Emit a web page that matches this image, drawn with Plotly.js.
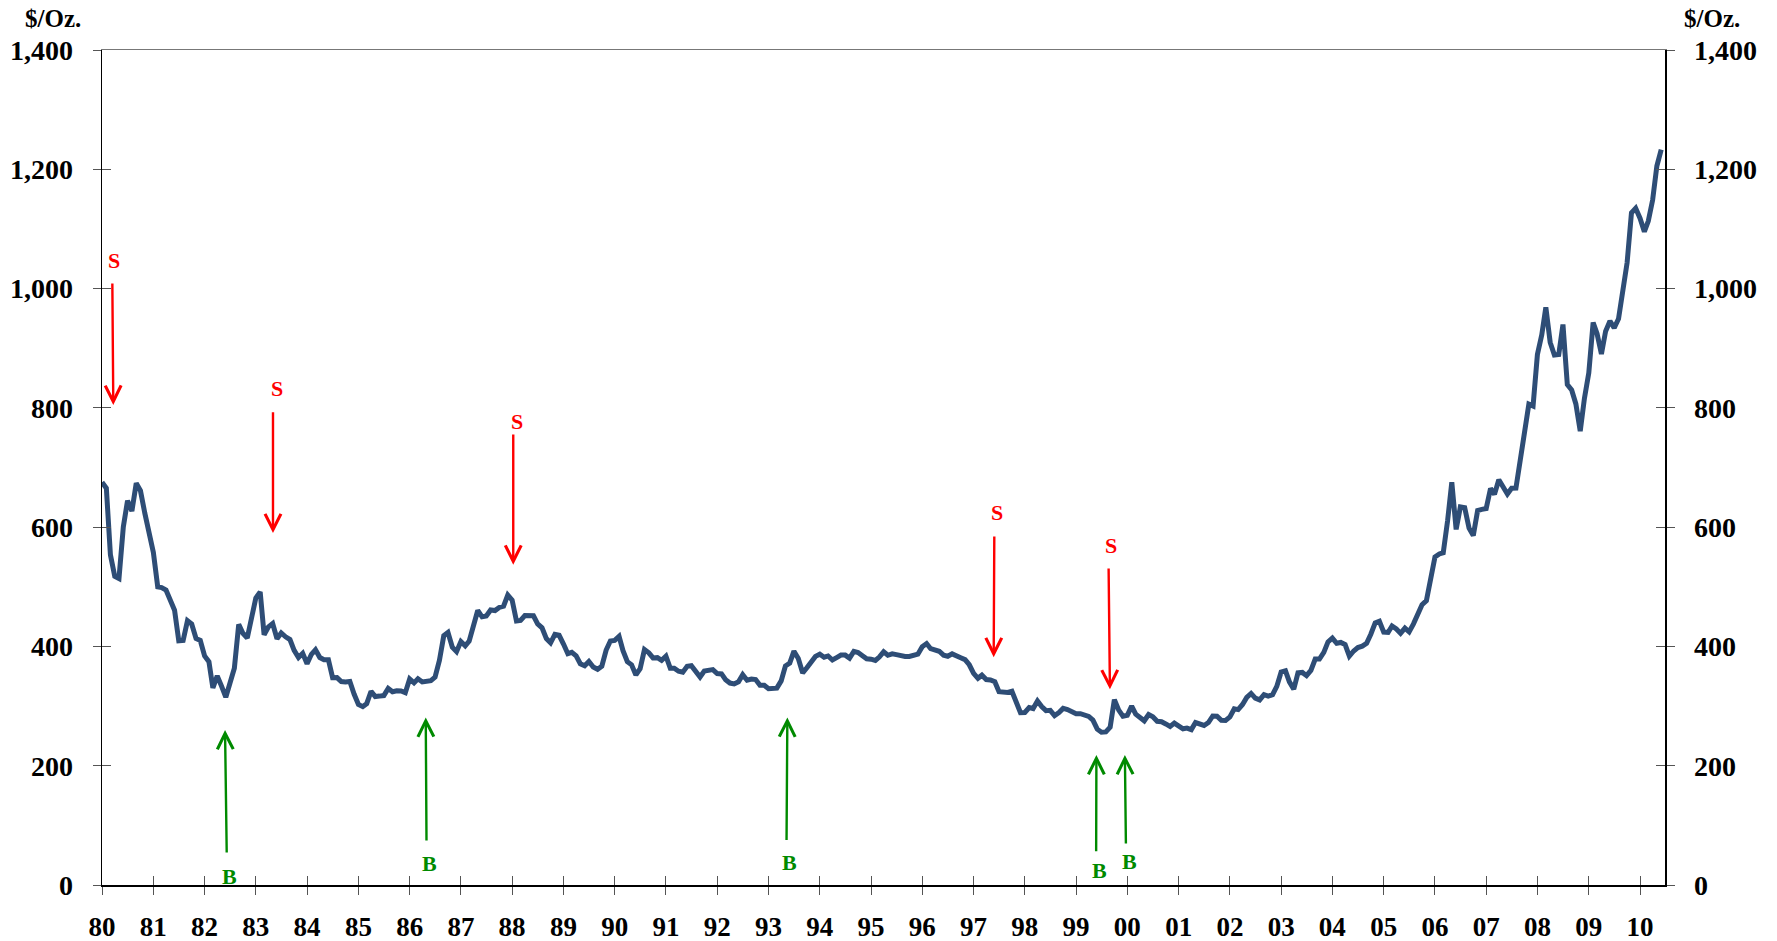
<!DOCTYPE html>
<html>
<head>
<meta charset="utf-8">
<script src="https://cdn.plot.ly/plotly-3.0.1.min.js"></script>
<style>
  html, body { margin: 0; padding: 0; background: #ffffff; }
  #chart { width: 1777px; height: 941px; }
</style>
</head>
<body>
<div id="chart"></div>
<script>
// Monthly average gold price, $/oz, starting January 1980
const startYear = 1980;
const prices1980s = [
  675.3, 665.3, 553.6, 517.4, 513.8, 600.7, 644.3, 627.0, 673.6, 661.1, 623.5, 594.9,
  557.6, 499.8, 498.6, 494.6, 480.0, 460.8, 409.3, 410.0, 443.1, 437.7, 413.3, 410.1,
  384.2, 374.2, 330.3, 350.5, 333.9, 314.9, 338.6, 363.5, 436.9, 422.1, 414.1, 444.3,
  481.3, 491.4, 419.7, 432.8, 438.4, 412.9, 422.6, 416.2, 411.6, 393.4, 381.3, 388.4,
  370.9, 386.8, 394.3, 381.4, 377.7, 377.6, 347.6, 347.7, 341.1, 340.2, 341.2, 320.2,
  302.8, 299.1, 304.0, 324.8, 316.0, 316.7, 317.6, 329.6, 324.0, 325.7, 325.3, 322.4,
  345.4, 338.9, 345.7, 340.4, 342.6, 342.7, 348.6, 376.6, 417.9, 423.3, 398.6, 391.3,
  408.3, 401.1, 408.9, 438.4, 460.2, 449.6, 451.0, 461.1, 460.1, 465.4, 467.6, 486.3,
  477.8, 442.7, 443.6, 451.7, 451.5, 451.4, 437.8, 431.3, 413.1, 406.0, 420.1, 418.7,
  404.0, 387.8, 390.1, 384.2, 371.0, 367.6, 374.8, 365.6, 361.7, 366.9, 394.0, 409.2
];
const prices1990s = [
  410.1, 416.8, 393.0, 374.3, 369.1, 352.3, 362.5, 394.7, 389.3, 380.8, 381.2, 376.7,
  383.7, 363.3, 363.5, 358.4, 356.8, 366.7, 367.7, 356.4, 348.7, 358.7, 359.8, 361.1,
  354.5, 353.9, 344.3, 338.6, 337.2, 340.8, 352.7, 343.4, 345.4, 344.4, 335.0, 334.8,
  329.0, 329.3, 330.1, 342.2, 367.2, 371.9, 392.0, 379.8, 355.6, 364.2, 373.8, 383.3,
  387.0, 381.9, 384.0, 377.3, 381.3, 385.6, 385.5, 380.4, 391.6, 389.8, 384.4, 379.3,
  378.6, 376.5, 382.1, 391.0, 385.2, 387.6, 386.2, 383.8, 383.1, 383.1, 386.0, 387.0,
  399.5, 404.8, 396.2, 392.9, 391.9, 385.3, 383.5, 387.5, 383.1, 381.1, 377.9, 369.3,
  355.0, 346.6, 351.8, 344.5, 343.8, 340.8, 324.1, 324.0, 322.8, 324.9, 306.0, 289.0,
  289.2, 297.5, 295.9, 308.4, 299.1, 292.3, 292.9, 284.1, 289.0, 296.1, 294.1, 291.6,
  287.1, 287.3, 286.0, 282.6, 276.4, 261.3, 256.1, 256.7, 264.7, 310.7, 293.2, 283.1
];
const prices2000s = [
  284.6, 300.0, 286.4, 280.0, 275.3, 285.7, 282.0, 274.5, 273.7, 270.1, 265.9, 271.5,
  265.5, 261.9, 263.0, 260.5, 272.4, 270.2, 267.5, 272.4, 283.4, 283.1, 276.2, 275.9,
  281.7, 295.5, 294.1, 302.7, 314.5, 321.2, 313.3, 310.3, 319.2, 316.6, 319.1, 333.0,
  356.9, 359.0, 340.6, 328.2, 355.7, 356.4, 351.0, 359.8, 378.9, 378.9, 389.9, 407.6,
  414.0, 405.3, 406.7, 403.0, 383.8, 392.4, 398.1, 400.5, 405.3, 420.5, 439.4, 442.1,
  424.0, 423.4, 434.2, 429.2, 421.9, 430.7, 424.5, 437.9, 456.0, 469.9, 476.7, 509.8,
  549.9, 555.0, 557.1, 610.6, 675.4, 596.2, 633.8, 632.6, 598.2, 585.8, 627.8, 629.8,
  631.2, 664.8, 654.9, 679.4, 666.9, 655.5, 665.3, 665.4, 712.7, 754.6, 806.3, 803.2,
  889.6, 922.3, 968.4, 909.7, 888.7, 889.5, 939.8, 839.0, 829.9, 806.6, 760.9, 816.1,
  858.7, 943.0, 924.3, 890.2, 928.6, 945.7, 934.2, 949.4, 996.6, 1043.2, 1127.0, 1134.7
];
const prices2010s = [1118.0, 1095.4, 1113.3, 1148.7, 1205.4, 1232.9];

// Sell ("S") and buy ("B") signals: decimal year, arrow tip value, arrow tail value, label position
const sellTipYear  = [1980.220, 1983.335, 1988.022, 1997.392, 1999.661];
const sellTailYear = [1980.201, 1983.335, 1988.022, 1997.404, 1999.635];
const sellTipValue = [805, 590, 537, 382, 328];
const sellTailValue = [1011, 795, 758, 587, 533];
const sellLabelYear = [1980.234, 1983.407, 1988.089, 1997.451, 1999.674];
const sellLabelValue = [1047, 832, 777, 624, 570];

const buyTipYear  = [1982.399, 1986.314, 1993.367, 1999.397, 1999.953];
const buyTailYear = [1982.432, 1986.329, 1993.351, 1999.392, 1999.973];
const buyTipValue = [260, 281, 281, 218, 218];
const buyTailValue = [52, 72, 73, 54, 67];
const buyLabelYear = [1982.489, 1986.386, 1993.406, 1999.466, 2000.051];
const buyLabelValue = [15, 36, 37, 25, 39];

const unitLabel = "$/Oz.";

// ---- build series ----
const prices = [].concat(prices1980s, prices1990s, prices2000s, prices2010s);
const pad = n => (n < 10 ? "0" : "") + n;
const dates = prices.map((_, i) => {
  const y = startYear + Math.floor(i / 12);
  const m = (i % 12) + 1;
  return y + "-" + pad(m) + "-01";
});

function yearToDate(v) {
  const y = Math.floor(v);
  const s = Date.UTC(y, 0, 1), e = Date.UTC(y + 1, 0, 1);
  const d = new Date(s + (v - y) * (e - s));
  return d.getUTCFullYear() + "-" + pad(d.getUTCMonth() + 1) + "-" + pad(d.getUTCDate()) +
    " " + pad(d.getUTCHours()) + ":" + pad(d.getUTCMinutes());
}

const serif = '"Liberation Serif", "Times New Roman", Times, serif';
const tickFontY = { family: serif, size: 28, color: "#000", weight: "bold" };
const tickFontX = { family: serif, size: 27, color: "#000", weight: "bold" };
const xRange = ["1980-01-01", "2010-06-28"];
const yRange = [0, 1400];

const lineColor = "#2E4D76";
const ghost = { color: "rgba(0,0,0,0)", width: 1 };

const traces = [
  { x: dates, y: prices, type: "scatter", mode: "lines", xaxis: "x2", yaxis: "y2",
    line: ghost, hoverinfo: "skip", showlegend: false },
  { x: dates, y: prices, type: "scatter", mode: "lines", xaxis: "x3", yaxis: "y3",
    line: ghost, hoverinfo: "skip", showlegend: false },
  { x: dates, y: prices, type: "scatter", mode: "lines", xaxis: "x", yaxis: "y4",
    line: ghost, hoverinfo: "skip", showlegend: false },
  { x: dates, y: prices, type: "scatter", mode: "lines", xaxis: "x", yaxis: "y",
    line: { color: lineColor, width: 5 }, showlegend: false, name: "Gold" }
];

const annotations = [];
const arrowCommon = { showarrow: true, arrowhead: 5, arrowsize: 1.3, arrowwidth: 2.4,
  axref: "x", ayref: "y", xref: "x", yref: "y", text: "", standoff: 0, startstandoff: 0 };
const labelFont = c => ({ family: serif, size: 22, color: c, weight: "bold" });

for (let i = 0; i < sellTipYear.length; i++) {
  annotations.push(Object.assign({}, arrowCommon, {
    x: yearToDate(sellTipYear[i]), y: sellTipValue[i],
    ax: yearToDate(sellTailYear[i]), ay: sellTailValue[i], arrowcolor: "#FF0000" }));
  annotations.push({ x: yearToDate(sellLabelYear[i]), y: sellLabelValue[i], xref: "x", yref: "y",
    text: "S", showarrow: false, font: labelFont("#FF0000"), xanchor: "center", yanchor: "middle" });
}
for (let i = 0; i < buyTipYear.length; i++) {
  annotations.push(Object.assign({}, arrowCommon, {
    x: yearToDate(buyTipYear[i]), y: buyTipValue[i],
    ax: yearToDate(buyTailYear[i]), ay: buyTailValue[i], arrowcolor: "#008A00" }));
  annotations.push({ x: yearToDate(buyLabelYear[i]), y: buyLabelValue[i], xref: "x", yref: "y",
    text: "B", showarrow: false, font: labelFont("#008A00"), xanchor: "center", yanchor: "middle" });
}
const titleFont = { family: serif, size: 25, color: "#000", weight: "bold" };
annotations.push({ xref: "paper", yref: "paper", x: 0, y: 1, xshift: -49, yshift: 32,
  text: unitLabel, showarrow: false, font: titleFont, xanchor: "center", yanchor: "middle" });
annotations.push({ xref: "paper", yref: "paper", x: 1, y: 1, xshift: 47, yshift: 32,
  text: unitLabel, showarrow: false, font: titleFont, xanchor: "center", yanchor: "middle" });

const yBase = { range: yRange, dtick: 200, tick0: 0, showgrid: false, zeroline: false,
  fixedrange: true };
const xBase = { type: "date", range: xRange, showgrid: false, zeroline: false, fixedrange: true,
  dtick: "M12", tick0: "1980-01-01" };

const layout = {
  width: 1777, height: 941,
  margin: { l: 102, r: 112, t: 50, b: 56, pad: 0 },
  paper_bgcolor: "#ffffff", plot_bgcolor: "#ffffff",
  showlegend: false,
  xaxis: Object.assign({}, xBase, {
    anchor: "y", side: "bottom",
    showline: true, linecolor: "#000", linewidth: 2,
    ticks: "outside", ticklen: 8, tickwidth: 1, tickcolor: "#555",
    tickformat: "%y", tickfont: tickFontX, ticklabelstandoff: 9
  }),
  xaxis2: Object.assign({}, xBase, {
    anchor: "y2", overlaying: "x", side: "top",
    showline: true, linecolor: "#777", linewidth: 1,
    ticks: "", showticklabels: false
  }),
  xaxis3: Object.assign({}, xBase, {
    anchor: "y3", overlaying: "x", side: "bottom",
    showline: false, ticks: "inside", ticklen: 9, tickwidth: 1, tickcolor: "#555",
    showticklabels: false
  }),
  yaxis: Object.assign({}, yBase, {
    anchor: "x", side: "left",
    showline: true, linecolor: "#000", linewidth: 1.5,
    ticks: "outside", ticklen: 8, tickwidth: 1, tickcolor: "#555",
    tickformat: ",d", tickfont: tickFontY, ticklabelstandoff: 14
  }),
  yaxis2: Object.assign({}, yBase, {
    anchor: "x2", overlaying: "y", side: "right",
    showline: true, linecolor: "#000", linewidth: 1.5,
    ticks: "outside", ticklen: 8, tickwidth: 1, tickcolor: "#555",
    tickformat: ",d", tickfont: tickFontY, ticklabelstandoff: 14
  }),
  yaxis3: Object.assign({}, yBase, {
    anchor: "x3", overlaying: "y", side: "left",
    showline: false, ticks: "inside", ticklen: 9, tickwidth: 1, tickcolor: "#555",
    showticklabels: false
  }),
  yaxis4: Object.assign({}, yBase, {
    anchor: "x", overlaying: "y", side: "right",
    showline: false, ticks: "inside", ticklen: 9, tickwidth: 1, tickcolor: "#555",
    showticklabels: false
  }),
  annotations: annotations
};

Plotly.newPlot("chart", traces, layout, { displayModeBar: false, staticPlot: true });
</script>
</body>
</html>
